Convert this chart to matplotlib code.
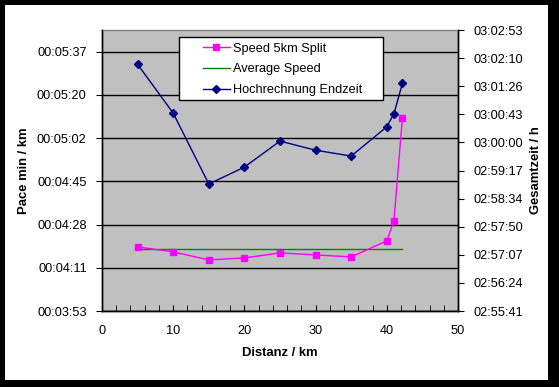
import matplotlib.pyplot as plt
import matplotlib.patches as mpatches
from matplotlib.ticker import FixedLocator, MultipleLocator, FuncFormatter

plt.rcParams['font.family'] = ['Liberation Sans', 'DejaVu Sans']

# Distanz in km
distanz = [5, 10, 15, 20, 25, 30, 35, 40, 41, 42.195]
# Pace je Split in Sekunden pro km
pace_split = [258.9, 256.9, 253.7, 254.5, 256.5, 255.7, 254.9, 261.3, 269.3, 310.5]
# Durchschnittspace (s/km)
pace_avg = [258.1, 258.1]
avg_x = [5, 42.195]
# Hochrechnung Endzeit in Sekunden
endzeit = [10920, 10845, 10736, 10762, 10802, 10788, 10779, 10824, 10844, 10891]

TAG = 86400.0
FS = 9.2


def hms(s, pos=None):
    s = int(round(s))
    return f"{s // 3600:02d}:{(s % 3600) // 60:02d}:{s % 60:02d}"


fig = plt.figure(figsize=(5.59, 3.87), dpi=100, facecolor="black")
fig.add_artist(mpatches.Rectangle((5 / 559, 7 / 387), 543 / 559, 375 / 387,
                                  transform=fig.transFigure, facecolor="white",
                                  edgecolor="none", zorder=-5))

ax = fig.add_axes([102 / 559, 76 / 387, 356 / 559, 281 / 387])
ax.set_facecolor("#C0C0C0")
ax2 = ax.twinx()

l1, = ax.plot(distanz, pace_split, color="#FF00FF", lw=1, marker="s", ms=5,
              label="Speed 5km Split", zorder=3)
l2, = ax.plot(avg_x, pace_avg, color="#008000", lw=1, label="Average Speed", zorder=2)
l3, = ax2.plot(distanz, endzeit, color="#000080", lw=1, marker="D", ms=4.5,
               label="Hochrechnung Endzeit", zorder=3)

# linke Achse (Pace)
lo, step = 0.0027 * TAG, 0.0002 * TAG
ax.set_ylim(lo, 0.0040 * TAG)
ax.yaxis.set_major_locator(FixedLocator([lo + k * step for k in range(7)]))
ax.yaxis.set_major_formatter(FuncFormatter(hms))
ax.grid(axis="y", color="black", lw=1)
ax.set_axisbelow(True)

# rechte Achse (Gesamtzeit)
lo2, step2 = 0.122 * TAG, 0.0005 * TAG
ax2.set_ylim(lo2, 0.127 * TAG)
ax2.yaxis.set_major_locator(FixedLocator([lo2 + k * step2 for k in range(11)]))
ax2.yaxis.set_major_formatter(FuncFormatter(hms))

# x-Achse
ax.set_xlim(0, 50)
ax.xaxis.set_major_locator(MultipleLocator(10))
ax.xaxis.set_minor_locator(MultipleLocator(2))
ax.tick_params(axis="x", which="both", direction="in", length=4, labelsize=FS, pad=10)
ax.tick_params(axis="y", direction="out", length=4, labelsize=FS, pad=7)
ax2.tick_params(axis="y", direction="out", length=4, labelsize=FS, pad=7)

for a in (ax, ax2):
    for sp in a.spines.values():
        sp.set_color("black")
        sp.set_linewidth(1)
ax.spines["top"].set_color("#808080")
ax2.spines["top"].set_visible(False)

ax.set_xlabel("Distanz / km", fontsize=9.4, fontweight="bold", labelpad=7)
ax.set_ylabel("Pace min / km", fontsize=9.4, fontweight="bold", labelpad=5)
ax2.set_ylabel("Gesamtzeit / h", fontsize=9.4, fontweight="bold", rotation=90, labelpad=5)

# Legendenrahmen wie in Excel (rechts mehr Platz)
ax2.add_patch(mpatches.Rectangle((0.2163, 0.751), 0.5727, 0.224, transform=ax2.transAxes,
                                 facecolor="white", edgecolor="black", lw=1,
                                 zorder=4, clip_on=False))
leg = ax2.legend([l1, l2, l3], [l.get_label() for l in (l1, l2, l3)],
                 loc="upper left", bbox_to_anchor=(0.2837, 0.955), borderaxespad=0,
                 frameon=False, fontsize=FS, handlelength=2.1, handletextpad=0.25,
                 labelspacing=0.68, borderpad=0)
leg.set_zorder(5)

fig.savefig("out.png", dpi=100, facecolor=fig.get_facecolor())
